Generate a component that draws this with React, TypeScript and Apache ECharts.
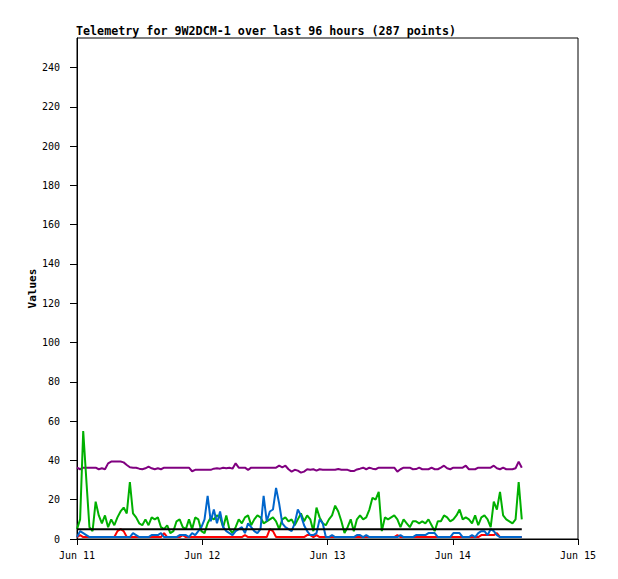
import { useEffect, useRef } from "react";
import * as echarts from "echarts";

// telemetry sampled roughly every 36 minutes, starting Jun 11 00:00
const stepHours = 0.596;
const dayLabels = ["Jun 11", "Jun 12", "Jun 13", "Jun 14", "Jun 15"];
const yTicks = [0, 20, 40, 60, 80, 100, 120, 140, 160, 180, 200, 220, 240];

const purpleValues = [
  36.3, 35.5, 36.3, 36.3, 36.3, 36.3, 36.3, 35.5, 36, 35.5,
  38.5, 39.4, 39.4, 39.4, 39.4, 39, 37.7, 36.5, 36.3, 36.3,
  35.8, 35.5, 36, 36.8, 36, 35.5, 36, 35.5, 36.3, 36.3,
  36.3, 36.3, 36.3, 36.3, 36.3, 36.3, 36.3, 34.5, 35.2, 35.2,
  35.2, 35.2, 35.2, 35.2, 35.8, 36, 35.8, 36.3, 36, 36.3,
  35.8, 38.5, 36.3, 36.3, 36.3, 35.2, 36.3, 36.3, 36.3, 36.3,
  36.3, 36.3, 36.3, 36.3, 36.3, 37.3, 36.5, 37.3, 35.5, 34.3,
  35.2, 34.8, 33.8, 34.3, 35.5, 35.2, 35.5, 34.8, 35.5, 35.2,
  35.2, 35.2, 35.2, 35.2, 35.6, 35.2, 35.2, 35.2, 34.6, 34.6,
  35.4, 35.8, 36.3, 35.5, 36.3, 35.8, 35.5, 36.3, 36.3, 36.3,
  36.3, 36.3, 36.3, 34.3, 35.5, 36.3, 36.3, 36.3, 35.5, 35.6,
  36.3, 35.5, 35.5, 35.5, 36.3, 35.5, 35.5, 36.3, 37.3, 36,
  35.5, 36.3, 36.3, 36.3, 36.3, 37.3, 35.5, 35.5, 35.5, 36.3,
  36.3, 36.3, 36.3, 36.3, 37.3, 36, 35.5, 36.3, 35.5, 35.5,
  35.5, 36, 39.4, 36.3,
];

const greenValues = [
  5, 10, 55, 30, 6, 4, 19, 12, 8, 12,
  6, 10, 7, 11, 14, 16, 13, 29, 13, 11,
  8, 7, 10, 7, 11, 10, 11, 6, 5, 7,
  3, 4, 9, 10, 6, 5, 10, 5, 11, 10,
  4, 3, 8, 11, 10, 12, 11, 6, 12, 5,
  3, 6, 10, 8, 11, 12, 7, 10, 12, 11,
  8, 9, 10, 11, 9, 5, 10, 11, 9, 10,
  7, 10, 13, 9, 12, 10, 4, 16, 11, 8,
  7, 10, 12, 17, 14, 9, 3, 6, 10, 4,
  10, 12, 10, 11, 15, 21, 20, 24, 4, 11,
  10, 11, 12, 10, 6, 10, 8, 6, 9, 9,
  8, 9, 8, 10, 7, 4, 9, 9, 12, 11,
  9, 10, 12, 15, 10, 11, 10, 8, 12, 7,
  11, 12, 10, 6, 19, 15, 24, 12, 10, 9,
  8, 10, 29, 10,
];

const redValues = [
  1, 2, 1, 1, 1, 1, 1, 1, 1, 1,
  1, 1, 1, 4, 5, 4, 1, 1, 1, 1,
  1, 1, 1, 1, 1, 1, 1, 1, 3, 1,
  1, 1, 1, 1, 2, 1, 1, 1, 1, 1,
  1, 1, 1, 1, 1, 1, 1, 1, 1, 1,
  1, 1, 1, 1, 2, 1, 1, 1, 1, 1,
  1, 1, 5, 4, 1, 1, 1, 1, 1, 1,
  1, 1, 1, 1, 2, 2, 1, 2, 1, 1,
  1, 1, 1, 1, 1, 1, 1, 1, 1, 1,
  1, 1, 1, 1, 1, 1, 1, 1, 1, 1,
  1, 1, 1, 2, 1, 1, 1, 1, 1, 1,
  1, 1, 1, 1, 1, 1, 1, 1, 1, 1,
  1, 1, 1, 1, 1, 1, 1, 1, 1, 1,
  2, 2, 2, 2, 2, 3, 1, 1, 1, 1,
  1, 1, 1, 1,
];

const blueValues = [
  1, 4, 3, 2, 1, 1, 1, 1, 1, 1,
  1, 1, 1, 1, 1, 1, 1, 1, 3, 2,
  1, 1, 1, 1, 2, 2, 2, 3, 1, 1,
  1, 1, 1, 2, 2, 2, 1, 3, 2, 4,
  6, 10, 22, 9, 15, 8, 14, 6, 4, 3,
  2, 4, 5, 6, 3, 8, 6, 4, 3, 5,
  22, 9, 14, 15, 26, 18, 8, 6, 5, 4,
  8, 15, 12, 7, 4, 2, 2, 3, 10, 8,
  1, 1, 2, 1, 1, 1, 1, 1, 1, 1,
  2, 2, 1, 2, 1, 1, 1, 1, 1, 1,
  1, 1, 1, 1, 2, 1, 1, 1, 1, 2,
  2, 2, 2, 3, 3, 3, 1, 1, 1, 1,
  1, 3, 3, 3, 1, 1, 1, 2, 1, 3,
  4, 4, 2, 5, 4, 2, 1, 1, 1, 1,
  1, 1, 1, 1,
];

// flat reference line, first and last sample
const blackValues = [5, 5];

const toPoints = (values: number[]) =>
  values.map((v, i) => [i * stepHours, v]);

const App = () => {
  const chartRef = useRef<HTMLDivElement>(null);

  useEffect(() => {
    if (!chartRef.current) return;
    const chart = echarts.init(chartRef.current, null, { renderer: "svg" });
    const lastHour = (purpleValues.length - 1) * stepHours;

    const lineSeries = (name: string, data: number[][], color: string) => ({
      name,
      type: "line" as const,
      data,
      symbol: "none",
      lineStyle: { color, width: 2 },
      itemStyle: { color },
    });

    chart.setOption({
      animation: false,
      backgroundColor: "#fff",
      title: {
        text: "Telemetry for 9W2DCM-1 over last 96 hours (287 points)",
        left: 76,
        top: 25,
        padding: 0,
        textStyle: {
          fontFamily: "DejaVu Sans Mono",
          fontSize: 11.7,
          fontWeight: "bold",
          color: "#000",
        },
      },
      grid: {
        left: 77,
        right: 40,
        top: 38,
        bottom: 40,
        show: true,
        borderColor: "#000",
        borderWidth: 1,
      },
      xAxis: {
        type: "value",
        min: 0,
        max: 96,
        interval: 24,
        axisLine: { lineStyle: { color: "#000", width: 1 } },
        axisTick: { show: true, length: 6, lineStyle: { color: "#000" } },
        axisLabel: {
          color: "#000",
          fontFamily: "DejaVu Sans Mono",
          fontSize: 10,
          margin: 11,
          formatter: (v: number) => dayLabels[Math.round(v / 24)] ?? "",
        },
        splitLine: { show: false },
      },
      yAxis: {
        type: "value",
        min: 0,
        max: 255,
        interval: 20,
        name: "Values",
        nameLocation: "middle",
        nameGap: 39,
        nameMoveOverlap: false,
        nameTextStyle: {
          fontFamily: "DejaVu Sans Mono",
          fontSize: 11,
          fontWeight: "bold",
          color: "#000",
        },
        axisLine: { show: true, lineStyle: { color: "#000", width: 1 } },
        axisTick: { show: true, length: 7, lineStyle: { color: "#000" } },
        axisLabel: {
          color: "#000",
          fontFamily: "DejaVu Sans Mono",
          fontSize: 10,
          margin: 17,
          showMaxLabel: false,
          formatter: (v: number) => (yTicks.includes(v) ? String(v) : ""),
        },
        splitLine: { show: false },
      },
      series: [
        lineSeries("purple", toPoints(purpleValues), "#800080"),
        lineSeries("green", toPoints(greenValues), "#00B000"),
        lineSeries("red", toPoints(redValues), "#FF0000"),
        lineSeries("blue", toPoints(blueValues), "#0066CC"),
        lineSeries(
          "black",
          [
            [0, blackValues[0]],
            [lastHour, blackValues[1]],
          ],
          "#000000"
        ),
      ],
    });

    return () => {
      chart.dispose();
    };
  }, []);

  return (
    <div
      ref={chartRef}
      style={{ position: "absolute", left: 0, top: 0, width: 618, height: 579 }}
    />
  );
};

export default App;
